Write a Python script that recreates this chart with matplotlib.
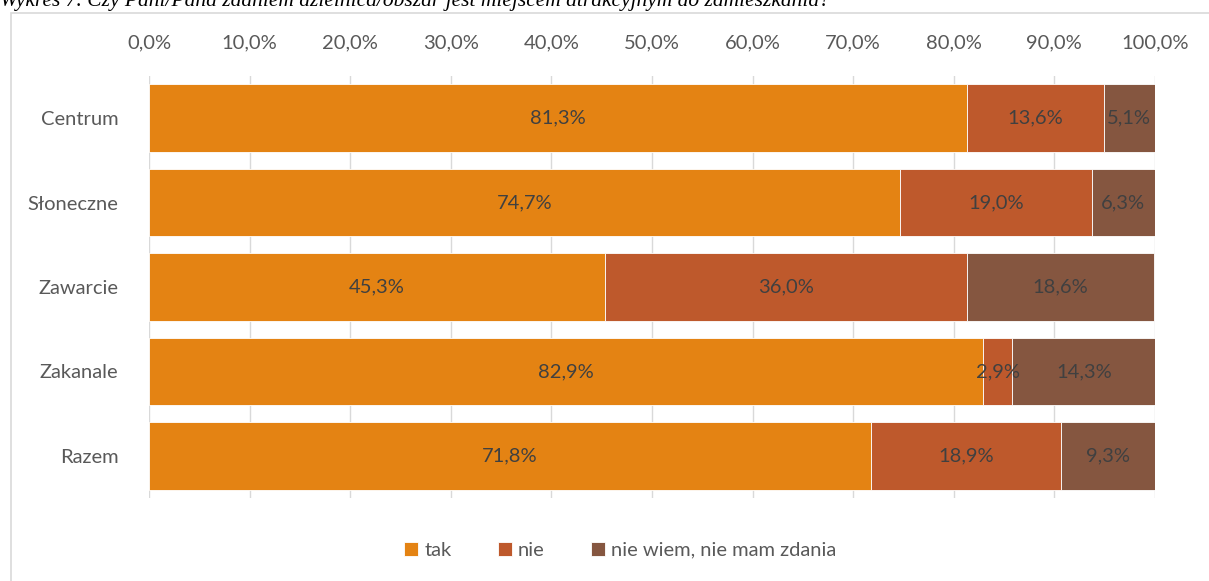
import matplotlib.pyplot as plt
import matplotlib.patches as mpatches
import numpy as np

categories = ["Centrum", "Słoneczne", "Zawarcie", "Zakanale", "Razem"]
tak = [81.3, 74.7, 45.3, 82.9, 71.8]
nie = [13.6, 19.0, 36.0, 2.9, 18.9]
nie_wiem = [5.1, 6.3, 18.6, 14.3, 9.3]
series_names = ["tak", "nie", "nie wiem, nie mam zdania"]
colors = ["#E48313", "#BE592C", "#855640"]

plt.rcParams['font.family'] = ['Lato', 'DejaVu Sans']
FS = 14.5

fig = plt.figure(figsize=(12.09, 5.81), dpi=100)
ax = fig.add_axes([0.1232, 0.1429, 0.8321, 0.7263])

# chart frame
fig.patches.append(mpatches.Rectangle((11 / 1209, -0.1), 1.2, 1 - 13 / 581 + 0.1,
                                      transform=fig.transFigure, fill=False,
                                      edgecolor="#D9D9D9", linewidth=1.2))

fig.text(0.0, 0.998, "Wykres 7. Czy Pani/Pana zdaniem dzielnica/obszar jest miejscem atrakcyjnym do zamieszkania?",
         family="Liberation Serif", style="italic", fontsize=15.5, va="center", ha="left")

y = np.arange(len(categories))
left = np.zeros(len(categories))
for vals, name, col in zip([tak, nie, nie_wiem], series_names, colors):
    vals = np.array(vals)
    ax.barh(y, vals, left=left, height=0.8, color=col, edgecolor="white",
            linewidth=0.6, label=name, zorder=2)
    for yi, l, v in zip(y, left, vals):
        ax.text(l + v / 2, yi, f"{v:.1f}%".replace(".", ","), ha="center", va="center",
                fontsize=FS, color="#404040", zorder=3)
    left += vals

ax.set_xlim(0, 100)
ax.set_ylim(len(categories) - 0.5, -0.5)
ax.set_yticks(y)
ax.set_yticklabels(categories)
ax.set_xticks(np.arange(0, 101, 10))
ax.set_xticklabels([f"{v:.1f}%".replace(".", ",") for v in np.arange(0, 101, 10)])
ax.xaxis.tick_top()
ax.tick_params(axis="both", length=0, labelsize=FS, colors="#595959")
ax.tick_params(axis="x", pad=18)
ax.tick_params(axis="y", pad=22)
ax.grid(axis="x", color="#D9D9D9", linewidth=1, zorder=0)
for s in ax.spines.values():
    s.set_visible(False)

fig.legend(loc="center", bbox_to_anchor=(0.513, 0.053), ncol=3, frameon=False,
           fontsize=FS, handlelength=0.7, handleheight=0.7, columnspacing=2.3,
           handletextpad=0.3, labelcolor="#595959")

fig.savefig("out.png", dpi=100)
